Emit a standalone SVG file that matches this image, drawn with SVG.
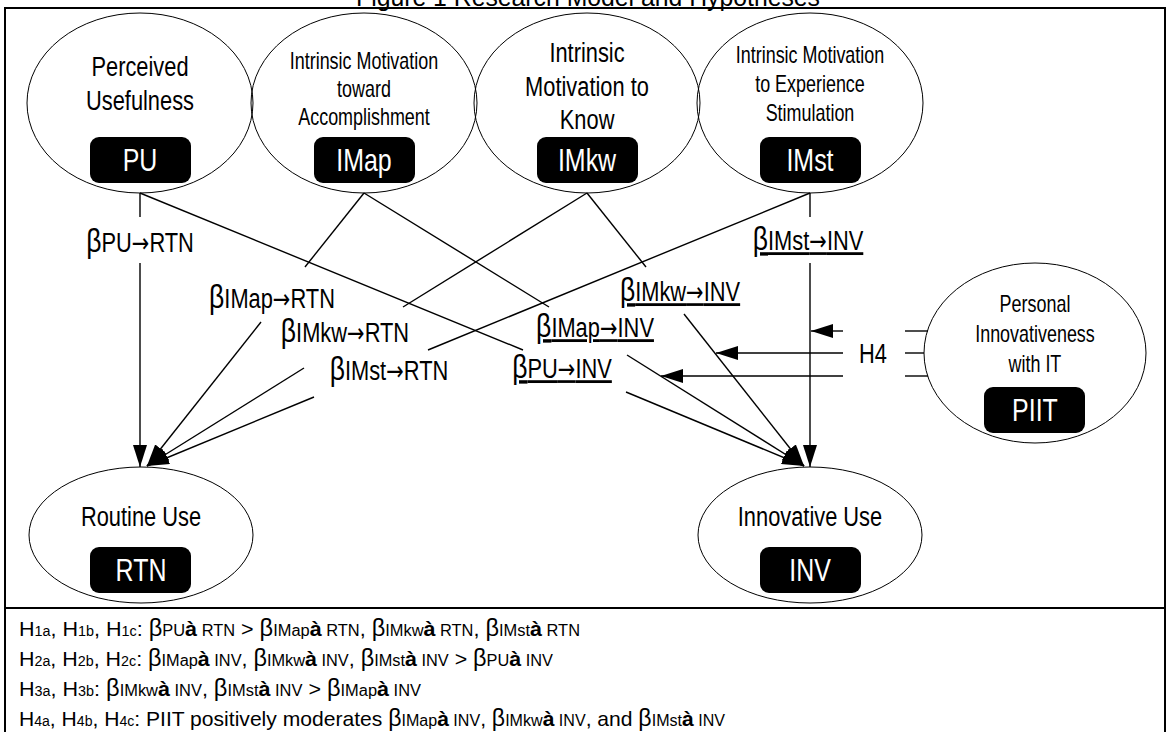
<svg xmlns="http://www.w3.org/2000/svg" width="1167" height="732" viewBox="0 0 1167 732">
<defs>
<style>
text{font-family:"Liberation Sans",Arial,sans-serif;fill:#000}
.t{text-anchor:middle;transform-box:fill-box;transform-origin:center;transform:scaleX(0.78)}
.big{font-size:28px}
.sm{font-size:23px}
.bx{font-size:32px;fill:#fff}
.lbl{font-size:28px}
.u{text-decoration:underline}
.b{font-size:34px}
.ar{font-family:"DejaVu Sans",sans-serif;font-size:27px}
.e{fill:none;stroke:#000;stroke-width:1}
.k{fill:#000}
.c{stroke:#000;stroke-width:1.4;fill:none}
.n{font-size:21px}
.s{font-size:14px}
.s2{font-size:16px}
.g{font-size:23px}
.w{font-size:21px;font-weight:bold}
</style>
<marker id="ah" markerUnits="userSpaceOnUse" viewBox="0 0 22 14" markerWidth="22" markerHeight="14" refX="22" refY="7" orient="auto"><path d="M0,0 L22,7 L0,14 z" fill="#000"/></marker>
</defs>
<rect width="1167" height="732" fill="#fff"/>
<text x="588" y="6" font-size="26" text-anchor="middle" textLength="464" lengthAdjust="spacingAndGlyphs">Figure 1 Research Model and Hypotheses</text>
<rect x="5" y="8" width="1160" height="740" fill="none" stroke="#000" stroke-width="2"/>
<line x1="5" y1="608" x2="1165" y2="608" stroke="#000" stroke-width="2"/>

<g id="PU">
<ellipse class="e" cx="140" cy="103" rx="113" ry="90"/>
<text class="t big" x="140" y="76">Perceived</text>
<text class="t big" x="140" y="110">Usefulness</text>
<rect class="k" x="90" y="137" width="101" height="46" rx="9"/>
<text class="t bx" x="140" y="171">PU</text>
</g>
<g id="IMap">
<ellipse class="e" cx="364" cy="103" rx="113" ry="90"/>
<text class="t sm" x="364" y="69">Intrinsic Motivation</text>
<text class="t sm" x="364" y="97">toward</text>
<text class="t sm" x="364" y="125">Accomplishment</text>
<rect class="k" x="314" y="137" width="101" height="46" rx="9"/>
<text class="t bx" x="364" y="171">IMap</text>
</g>
<g id="IMkw">
<ellipse class="e" cx="587" cy="103" rx="113" ry="90"/>
<text class="t big" x="587" y="62">Intrinsic</text>
<text class="t big" x="587" y="96">Motivation to</text>
<text class="t big" x="587" y="129">Know</text>
<rect class="k" x="537" y="137" width="101" height="46" rx="9"/>
<text class="t bx" x="587" y="171">IMkw</text>
</g>
<g id="IMst">
<ellipse class="e" cx="810" cy="103" rx="113" ry="90"/>
<text class="t sm" x="810" y="63">Intrinsic Motivation</text>
<text class="t sm" x="810" y="92">to Experience</text>
<text class="t sm" x="810" y="121">Stimulation</text>
<rect class="k" x="760" y="137" width="101" height="46" rx="9"/>
<text class="t bx" x="810" y="171">IMst</text>
</g>
<g id="PIIT">
<ellipse class="e" cx="1035" cy="353" rx="111" ry="90"/>
<text class="t sm" x="1035" y="312">Personal</text>
<text class="t sm" x="1035" y="342">Innovativeness</text>
<text class="t sm" x="1035" y="372">with IT</text>
<rect class="k" x="984" y="387" width="101" height="46" rx="9"/>
<text class="t bx" x="1035" y="421">PIIT</text>
</g>
<g id="RTN">
<ellipse class="e" cx="141" cy="535" rx="112" ry="68"/>
<text class="t big" x="141" y="526">Routine Use</text>
<rect class="k" x="90" y="547" width="101" height="46" rx="9"/>
<text class="t bx" x="141" y="581">RTN</text>
</g>
<g id="INV">
<ellipse class="e" cx="810" cy="535" rx="112" ry="68"/>
<text class="t big" x="810" y="526">Innovative Use</text>
<rect class="k" x="760" y="547" width="101" height="46" rx="9"/>
<text class="t bx" x="810" y="581">INV</text>
</g>

<g id="connectors">
<line class="c" x1="140" y1="193" x2="140" y2="217"/>
<line class="c" x1="140" y1="263" x2="140" y2="467" marker-end="url(#ah)"/>
<line class="c" x1="364" y1="193" x2="305" y2="267"/>
<line class="c" x1="261" y1="322" x2="147" y2="466" marker-end="url(#ah)"/>
<line class="c" x1="587" y1="193" x2="403" y2="307"/>
<line class="c" x1="304" y1="368" x2="147" y2="466" marker-end="url(#ah)"/>
<line class="c" x1="810" y1="193" x2="428" y2="350"/>
<line class="c" x1="314" y1="397" x2="147" y2="466" marker-end="url(#ah)"/>
<line class="c" x1="140" y1="193" x2="523" y2="350"/>
<line class="c" x1="626" y1="392" x2="804" y2="466" marker-end="url(#ah)"/>
<line class="c" x1="364" y1="193" x2="549" y2="307"/>
<line class="c" x1="627" y1="355" x2="804" y2="466" marker-end="url(#ah)"/>
<line class="c" x1="587" y1="193" x2="646" y2="267"/>
<line class="c" x1="684" y1="314" x2="804" y2="466" marker-end="url(#ah)"/>
<line class="c" x1="810" y1="193" x2="810" y2="217"/>
<line class="c" x1="810" y1="263" x2="810" y2="467" marker-end="url(#ah)"/>
<line class="c" x1="843" y1="331" x2="811" y2="331" marker-end="url(#ah)"/>
<line class="c" x1="843" y1="353" x2="716" y2="353" marker-end="url(#ah)"/>
<line class="c" x1="843" y1="376" x2="661" y2="376" marker-end="url(#ah)"/>
<line class="c" x1="905" y1="331" x2="928" y2="331"/>
<line class="c" x1="905" y1="353" x2="924" y2="353"/>
<line class="c" x1="905" y1="376" x2="928" y2="376"/>
<text class="t lbl" x="140" y="252"><tspan class="b">β</tspan>PU<tspan class="ar">→</tspan>RTN</text>
<text class="t lbl" x="272" y="308"><tspan class="b">β</tspan>IMap<tspan class="ar">→</tspan>RTN</text>
<text class="t lbl" x="345" y="342"><tspan class="b">β</tspan>IMkw<tspan class="ar">→</tspan>RTN</text>
<text class="t lbl" x="389" y="380"><tspan class="b">β</tspan>IMst<tspan class="ar">→</tspan>RTN</text>
<text class="t lbl u" x="808" y="250"><tspan class="b">β</tspan>IMst<tspan class="ar">→</tspan>INV</text>
<text class="t lbl u" x="680" y="301"><tspan class="b">β</tspan>IMkw<tspan class="ar">→</tspan>INV</text>
<text class="t lbl u" x="595" y="337"><tspan class="b">β</tspan>IMap<tspan class="ar">→</tspan>INV</text>
<text class="t lbl u" x="562" y="378"><tspan class="b">β</tspan>PU<tspan class="ar">→</tspan>INV</text>
<text class="t lbl" x="873" y="363">H4</text>
</g>

<g id="notes">
<text class="n" x="19" y="636" textLength="561" lengthAdjust="spacingAndGlyphs">H<tspan class="s">1a</tspan>, H<tspan class="s">1b</tspan>, H<tspan class="s">1c</tspan>: <tspan class="g">β</tspan><tspan class="s2">PU</tspan><tspan class="w">à</tspan><tspan class="s2"> RTN</tspan> &gt; <tspan class="g">β</tspan><tspan class="s2">IMap</tspan><tspan class="w">à</tspan><tspan class="s2"> RTN</tspan>, <tspan class="g">β</tspan><tspan class="s2">IMkw</tspan><tspan class="w">à</tspan><tspan class="s2"> RTN</tspan>, <tspan class="g">β</tspan><tspan class="s2">IMst</tspan><tspan class="w">à</tspan><tspan class="s2"> RTN</tspan></text>
<text class="n" x="19" y="666" textLength="534" lengthAdjust="spacingAndGlyphs">H<tspan class="s">2a</tspan>, H<tspan class="s">2b</tspan>, H<tspan class="s">2c</tspan>: <tspan class="g">β</tspan><tspan class="s2">IMap</tspan><tspan class="w">à</tspan><tspan class="s2"> INV</tspan>, <tspan class="g">β</tspan><tspan class="s2">IMkw</tspan><tspan class="w">à</tspan><tspan class="s2"> INV</tspan>, <tspan class="g">β</tspan><tspan class="s2">IMst</tspan><tspan class="w">à</tspan><tspan class="s2"> INV</tspan> &gt; <tspan class="g">β</tspan><tspan class="s2">PU</tspan><tspan class="w">à</tspan><tspan class="s2"> INV</tspan></text>
<text class="n" x="19" y="696" textLength="402" lengthAdjust="spacingAndGlyphs">H<tspan class="s">3a</tspan>, H<tspan class="s">3b</tspan>: <tspan class="g">β</tspan><tspan class="s2">IMkw</tspan><tspan class="w">à</tspan><tspan class="s2"> INV</tspan>, <tspan class="g">β</tspan><tspan class="s2">IMst</tspan><tspan class="w">à</tspan><tspan class="s2"> INV</tspan> &gt; <tspan class="g">β</tspan><tspan class="s2">IMap</tspan><tspan class="w">à</tspan><tspan class="s2"> INV</tspan></text>
<text class="n" x="19" y="726" textLength="706" lengthAdjust="spacingAndGlyphs">H<tspan class="s">4a</tspan>, H<tspan class="s">4b</tspan>, H<tspan class="s">4c</tspan>: PIIT positively moderates <tspan class="g">β</tspan><tspan class="s2">IMap</tspan><tspan class="w">à</tspan><tspan class="s2"> INV</tspan>, <tspan class="g">β</tspan><tspan class="s2">IMkw</tspan><tspan class="w">à</tspan><tspan class="s2"> INV</tspan>, and <tspan class="g">β</tspan><tspan class="s2">IMst</tspan><tspan class="w">à</tspan><tspan class="s2"> INV</tspan></text>
</g>
</svg>
